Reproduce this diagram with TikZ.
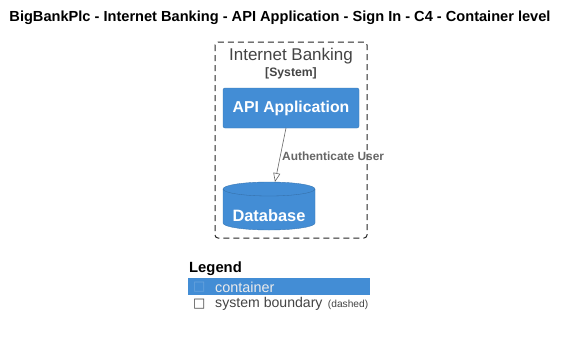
\documentclass[tikz,border=0pt]{standalone}
\usepackage{fontspec}
\setmainfont{Liberation Sans}
\newfontfamily\symfont{DejaVu Sans}
\usetikzlibrary{arrows.meta}
\definecolor{cblue}{HTML}{438DD5}
\definecolor{cgray}{HTML}{444444}
\definecolor{lgray}{HTML}{666666}
\tikzset{
  container/.style={fill=cblue,draw=cblue!85!black,line width=0.4pt,rounded corners=2pt},
  boundary/.style={draw=black!85,dash pattern=on 6pt off 4pt,line width=1pt,rounded corners=3pt},
  rel/.style={draw=lgray,line width=0.6pt,-{Triangle[open,length=9pt,width=7pt]}},
}
\begin{document}
\begin{tikzpicture}[x=1pt,y=-1pt]
\useasboundingbox[fill=white] (0,0) rectangle (566,338);
% title
\node[font=\bfseries\fontsize{14.6}{17}\selectfont] (title) at (280,18) {BigBankPlc - Internet Banking - API Application - Sign In - C4 - Container level};
% system boundary
\draw[boundary] (215,42) rectangle (367,238);
\node[text=cgray,font=\fontsize{17}{19}\selectfont] (sysname) at (291,56) {Internet Banking};
\node[text=cgray,font=\bfseries\fontsize{12.2}{14}\selectfont] (systype) at (291,73) {[System]};
% API application container
\node[container,minimum width=136pt,minimum height=40pt,text=white,font=\bfseries\fontsize{15.8}{18}\selectfont] (api) at (291,108) {API Application};
% database cylinder
\filldraw[fill=cblue,draw=cblue!85!black,line width=0.4pt]
  (223,189) arc[start angle=180,end angle=0,x radius=46pt,y radius=7pt]
  -- (315,223) arc[start angle=0,end angle=-180,x radius=46pt,y radius=7pt] -- cycle;
\draw[cblue!75!black,line width=0.3pt] (223,189) arc[start angle=180,end angle=360,x radius=46pt,y radius=7pt];
\coordinate (dbtop) at (275,182);
\node[text=white,font=\bfseries\fontsize{16.4}{18}\selectfont] (db) at (269,216) {Database};
% relation
\coordinate (relstart) at (286,128);
\draw[rel] (relstart) -- (dbtop);
\node[text=lgray,font=\bfseries\fontsize{11.9}{13}\selectfont,anchor=west,inner sep=0pt] (rellabel) at (282,156) {Authenticate User};
% legend
\node[anchor=west,font=\bfseries\fontsize{14.8}{16}\selectfont,inner sep=0pt] (legend) at (189,269) {Legend};
\fill[cblue] (188,278) rectangle (370,295);
\node[anchor=west,text=cblue!80!white,font=\symfont\fontsize{13}{13}\selectfont,inner sep=0pt] (lg1box) at (193,287) {□};
\node[anchor=west,text=white!92!black,font=\fontsize{14.4}{16}\selectfont,inner sep=0pt] (lg1) at (215,287) {container};
\node[anchor=west,text=cgray,font=\symfont\fontsize{13}{13}\selectfont,inner sep=0pt] (lg2box) at (193,304) {□};
\node[anchor=west,text=cgray,font=\fontsize{14.1}{16}\selectfont,inner sep=0pt] (lg2) at (215,304) {system boundary};
\node[anchor=base west,text=cgray,font=\fontsize{10.2}{12}\selectfont,inner sep=0pt] (lg2b) at ([xshift=5pt]lg2.base east) {(dashed)};
\end{tikzpicture}
\end{document}
